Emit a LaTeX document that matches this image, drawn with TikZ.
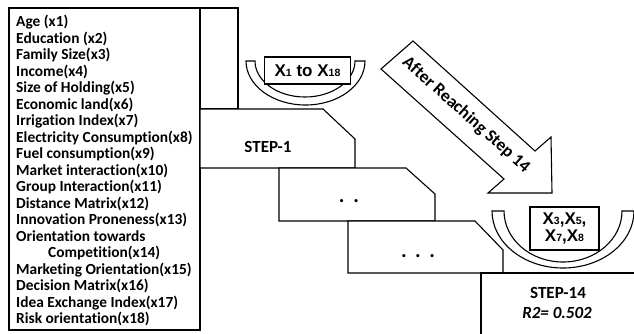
\documentclass[tikz,border=0pt]{standalone}
\usepackage{fontspec}
\setmainfont{Carlito}[RawFeature=-liga]
\newfontfamily\xfont{Liberation Sans}
\usetikzlibrary{positioning}

\newcommand{\xv}[1]{X{\fontsize{10.5}{10.5}\selectfont #1}}

\begin{document}
\begin{tikzpicture}[x=1pt, y=-1pt,
  every node/.style={font=\bfseries},
  outline/.style={draw=black, line width=1.1pt, fill=white, line join=miter},
  varlist/.style={align=left, inner sep=0pt, anchor=north west,
             font=\fontsize{15.4}{16.5}\selectfont\bfseries},
  steptext/.style={font=\fontsize{17}{19}\selectfont\bfseries},
  dotstext/.style={font=\fontsize{21}{21}\selectfont\bfseries},
  varbox/.style={draw=black, line width=1.1pt, fill=white, inner sep=0pt,
             font=\xfont\fontsize{17}{17.5}\selectfont\bfseries, align=center},
]
\useasboundingbox (0,0) rectangle (634,333);
\clip (0,0) rectangle (634,333);

% Variable list
\draw[outline] (9,8) rectangle (200,330);
\node[varlist] (vars) at (16,15) {Age (x1)\\Education (x2)\\Family Size(x3)\\Income(x4)\\
  Size of Holding(x5)\\Economic land(x6)\\Irrigation Index(x7)\\
  Electricity Consumption(x8)\\Fuel consumption(x9)\\Market interaction(x10)\\
  Group Interaction(x11)\\Distance Matrix(x12)\\Innovation Proneness(x13)\\
  Orientation towards\\\hspace*{32pt}Competition(x14)\\Marketing Orientation(x15)\\
  Decision Matrix(x16)\\Idea Exchange Index(x17)\\Risk orientation(x18)};
\draw[outline] (200,8) rectangle (238,109);

% Steps
\draw[outline] (200,109) -- (323,109) -- (355,139) -- (355,168) -- (200,168) -- cycle;
\node[steptext] (step1) at (268,147) {STEP-1};
\draw[outline] (279,168) -- (406,168) -- (435,194) -- (435,221) -- (279,221) -- cycle;
\node[dotstext] (dots2) at (349,201) {.\hspace{9pt}.};
\draw[outline] (348,221) -- (475,221) -- (503,250) -- (503,273) -- (348,273) -- cycle;
\node[dotstext] (dots3) at (418,256) {.\hspace{8.5pt}.\hspace{8.5pt}.};
\draw[outline] (481,273) rectangle (660,345);
\node[steptext] (step14) at (558,293) {STEP-14};
\node[steptext, font=\fontsize{17}{19}\selectfont\bfseries\itshape] (rsq) at (557,313) {R2= 0.502};

% Bowls
\draw[outline] (246,61) arc[start angle=180, end angle=0, x radius=59.5, y radius=44]
  -- (355,61) arc[start angle=0, end angle=180, x radius=50, y radius=36] -- cycle;
\node[varbox, minimum width=86pt, minimum height=27pt] (allx) at (307.5,70.5)
  {\xv{1} to \xv{18}};

\draw[outline] (492,211) arc[start angle=180, end angle=0, x radius=71, y radius=57]
  -- (622,211) arc[start angle=0, end angle=180, x radius=59, y radius=51] -- cycle;
\node[varbox, minimum width=69pt, minimum height=43pt] (selx) at (564.5,228.5)
  {\xv{3},\xv{5},\\\xv{7},\xv{8}};

% Arrow
\draw[outline] (381,69) -- (413,41) -- (535,151) -- (551,137) -- (552,193)
  -- (488,193) -- (504,179) -- cycle;
\node[steptext, font=\fontsize{17.5}{19}\selectfont\bfseries, rotate=-41.8] (after) at (466,115)
  {After Reaching Step 14};

\end{tikzpicture}
\end{document}
